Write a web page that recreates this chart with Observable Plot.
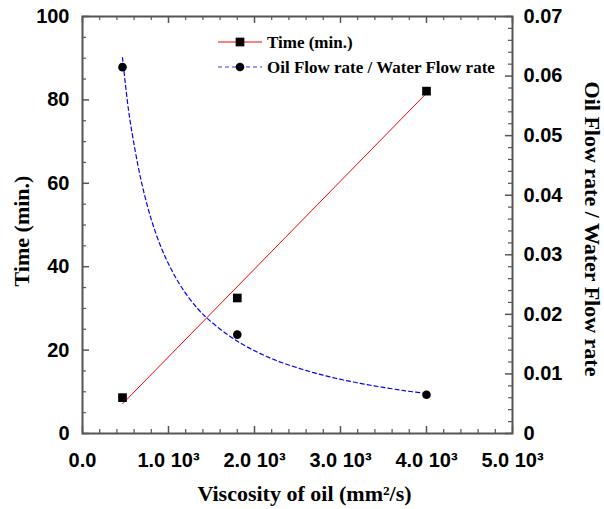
<!DOCTYPE html>
<html><head><meta charset="utf-8">
<script src="https://cdn.jsdelivr.net/npm/d3@7"></script>
<script src="https://cdn.jsdelivr.net/npm/@observablehq/plot@0.6"></script>
<style>body{margin:0;background:#fff}#chart{width:604px;height:509px}</style>
</head><body><div id="chart"></div>
<script>
// ---- data ----
const viscosity = [465, 1800, 4000];
const timeMin = [8.6, 32.5, 82.1];
const flowRatio = [0.0615, 0.0166, 0.0065];
const timeFitX = [465, 4000];
const timeFitY = [7.1, 81.6];
const ratioFitX = [465, 535, 589, 678, 794, 918, 1027, 1163, 1337, 1453, 1686, 1919, 2228, 2597, 2965, 3352, 3740, 4000];
const ratioFitY = [0.0631, 0.0543, 0.0494, 0.0427, 0.0362, 0.0311, 0.0277, 0.0243, 0.0210, 0.0193, 0.0166, 0.0145, 0.0124, 0.0106, 0.0092, 0.0081, 0.0072, 0.0067];
const xTicks = [0, 1000, 2000, 3000, 4000, 5000];
const xTickLabels = ["0.0", "1.0 10³", "2.0 10³", "3.0 10³", "4.0 10³", "5.0 10³"];
const yLeftTicks = [0, 20, 40, 60, 80, 100];
const yLeftLabels = ["0", "20", "40", "60", "80", "100"];
const yRightTicks = [0, 0.01, 0.02, 0.03, 0.04, 0.05, 0.06, 0.07];
const yRightLabels = ["0", "0.01", "0.02", "0.03", "0.04", "0.05", "0.06", "0.07"];
const seriesNames = ["Time (min.)", "Oil Flow rate / Water Flow rate"];
const xTitle = "Viscosity of oil (mm²/s)";
const yLeftTitle = "Time (min.)";
const yRightTitle = "Oil Flow rate / Water Flow rate";

// ---- layout ----
const W = 604, H = 509, mL = 82, mR = 92, mT = 16, mB = 76;
const innerW = W - mL - mR, innerH = H - mT - mB;
const rightMax = 0.07, leftMax = 100;
const toLeft = v => v / rightMax * leftMax; // right axis -> left-axis units

const points = viscosity.map((x, i) => ({x, time: timeMin[i], ratio: flowRatio[i]}));
const timeFit = timeFitX.map((x, i) => ({x, y: timeFitY[i]}));
const ratioFit = ratioFitX.map((x, i) => ({x, y: toLeft(ratioFitY[i])}));

const xMinor = d3.range(0, 5001, 200).filter(v => v % 1000 !== 0);
const yMinor = d3.range(0, 101, 5).filter(v => v % 20 !== 0);
const rMinor = d3.range(0, 71, 2).filter(v => v % 10 !== 0).map(v => toLeft(v / 1000));

const axisColor = "#555";
const sans = "Liberation Sans, Arial, sans-serif";
const serif = "Liberation Serif, Times New Roman, serif";
const MAJ = 7, MIN = 4;
const lab = {fontFamily: sans, fontWeight: "bold", fontSize: 20, fill: "#000", lineAnchor: "middle"};
const ttl = {fontFamily: serif, fontWeight: "bold", fontSize: 22, fill: "#000", lineAnchor: "middle", textAnchor: "middle"};

const chart = Plot.plot({
  width: W, height: H,
  marginLeft: mL, marginRight: mR, marginTop: mT, marginBottom: mB,
  x: {domain: [0, 5000], axis: null},
  y: {domain: [0, leftMax], axis: null},
  style: {background: "#fff", overflow: "visible"},
  marks: [
    // ticks (inward) on all four sides
    Plot.tickX(xTicks, {x: d => d, insetTop: innerH - MAJ, stroke: axisColor, strokeWidth: 1.5}),
    Plot.tickX(xMinor, {x: d => d, insetTop: innerH - MIN, stroke: axisColor, strokeWidth: 1.2}),
    Plot.tickX(xTicks, {x: d => d, insetBottom: innerH - MAJ, stroke: axisColor, strokeWidth: 1.5}),
    Plot.tickX(xMinor, {x: d => d, insetBottom: innerH - MIN, stroke: axisColor, strokeWidth: 1.2}),
    Plot.tickY(yLeftTicks, {y: d => d, insetRight: innerW - MAJ, stroke: axisColor, strokeWidth: 1.5}),
    Plot.tickY(yMinor, {y: d => d, insetRight: innerW - MIN, stroke: axisColor, strokeWidth: 1.2}),
    Plot.tickY(yRightTicks.map(toLeft), {y: d => d, insetLeft: innerW - MAJ, stroke: axisColor, strokeWidth: 1.5}),
    Plot.tickY(rMinor, {y: d => d, insetLeft: innerW - MIN, stroke: axisColor, strokeWidth: 1.2}),
    Plot.frame({stroke: axisColor, strokeWidth: 2}),
    // tick labels
    Plot.text(xTicks, {x: d => d, text: (d, i) => xTickLabels[i], frameAnchor: "bottom", dy: 27, textAnchor: "middle", ...lab}),
    Plot.text(yLeftTicks, {y: d => d, text: (d, i) => yLeftLabels[i], frameAnchor: "left", textAnchor: "end", dx: -13, ...lab}),
    Plot.text(yRightTicks, {y: d => toLeft(d), text: (d, i) => yRightLabels[i], frameAnchor: "right", textAnchor: "start", dx: 11, ...lab}),
    // axis titles
    Plot.text([xTitle], {text: d => d, frameAnchor: "bottom", dy: 60, dx: 7, ...ttl}),
    Plot.text([yLeftTitle], {text: d => d, frameAnchor: "left", dx: -61, dy: 6, rotate: -90, ...ttl}),
    Plot.text([yRightTitle], {text: d => d, frameAnchor: "right", dx: 80, dy: 4, rotate: 90, ...ttl}),
    // fits
    Plot.line(timeFit, {x: "x", y: "y", stroke: "#ff0000", strokeWidth: 1}),
    Plot.line(ratioFit, {x: "x", y: "y", stroke: "#0000ff", strokeWidth: 1.2, strokeDasharray: "4,3", curve: "catmull-rom"}),
    // data points
    Plot.dot(points, {x: "x", y: "time", symbol: "square", r: 4.9, fill: "#000", stroke: "none"}),
    Plot.dot(points, {x: "x", y: d => toLeft(d.ratio), symbol: "circle", r: 4.3, fill: "#000", stroke: "none"})
  ]
});

// legend drawn inside the plot area
const svg = d3.select(chart);
const lg = svg.append("g").attr("class", "legend").attr("text-anchor", "start");
const rows = [
  {name: seriesNames[0], stroke: "#ff0000", dash: null, symbol: d3.symbolSquare, size: 4.9 * 4.9 * Math.PI},
  {name: seriesNames[1], stroke: "#3333ff", dash: "4,3", symbol: d3.symbolCircle, size: 4.3 * 4.3 * Math.PI}
];
rows.forEach((r, i) => {
  const y = 42 + i * 25;
  lg.append("line").attr("x1", 218).attr("x2", 262).attr("y1", y).attr("y2", y)
    .attr("stroke", r.stroke).attr("stroke-width", 1).attr("stroke-dasharray", r.dash);
  lg.append("path").attr("d", d3.symbol(r.symbol, r.size)()).attr("transform", `translate(240,${y})`).attr("fill", "#000");
  lg.append("text").attr("x", 267).attr("y", y).attr("dy", "0.35em").attr("text-anchor", "start").text(r.name)
    .attr("font-family", serif).attr("font-weight", "bold").attr("font-size", 17).attr("fill", "#000");
});

document.getElementById("chart").appendChild(chart);
</script>
</body></html>
